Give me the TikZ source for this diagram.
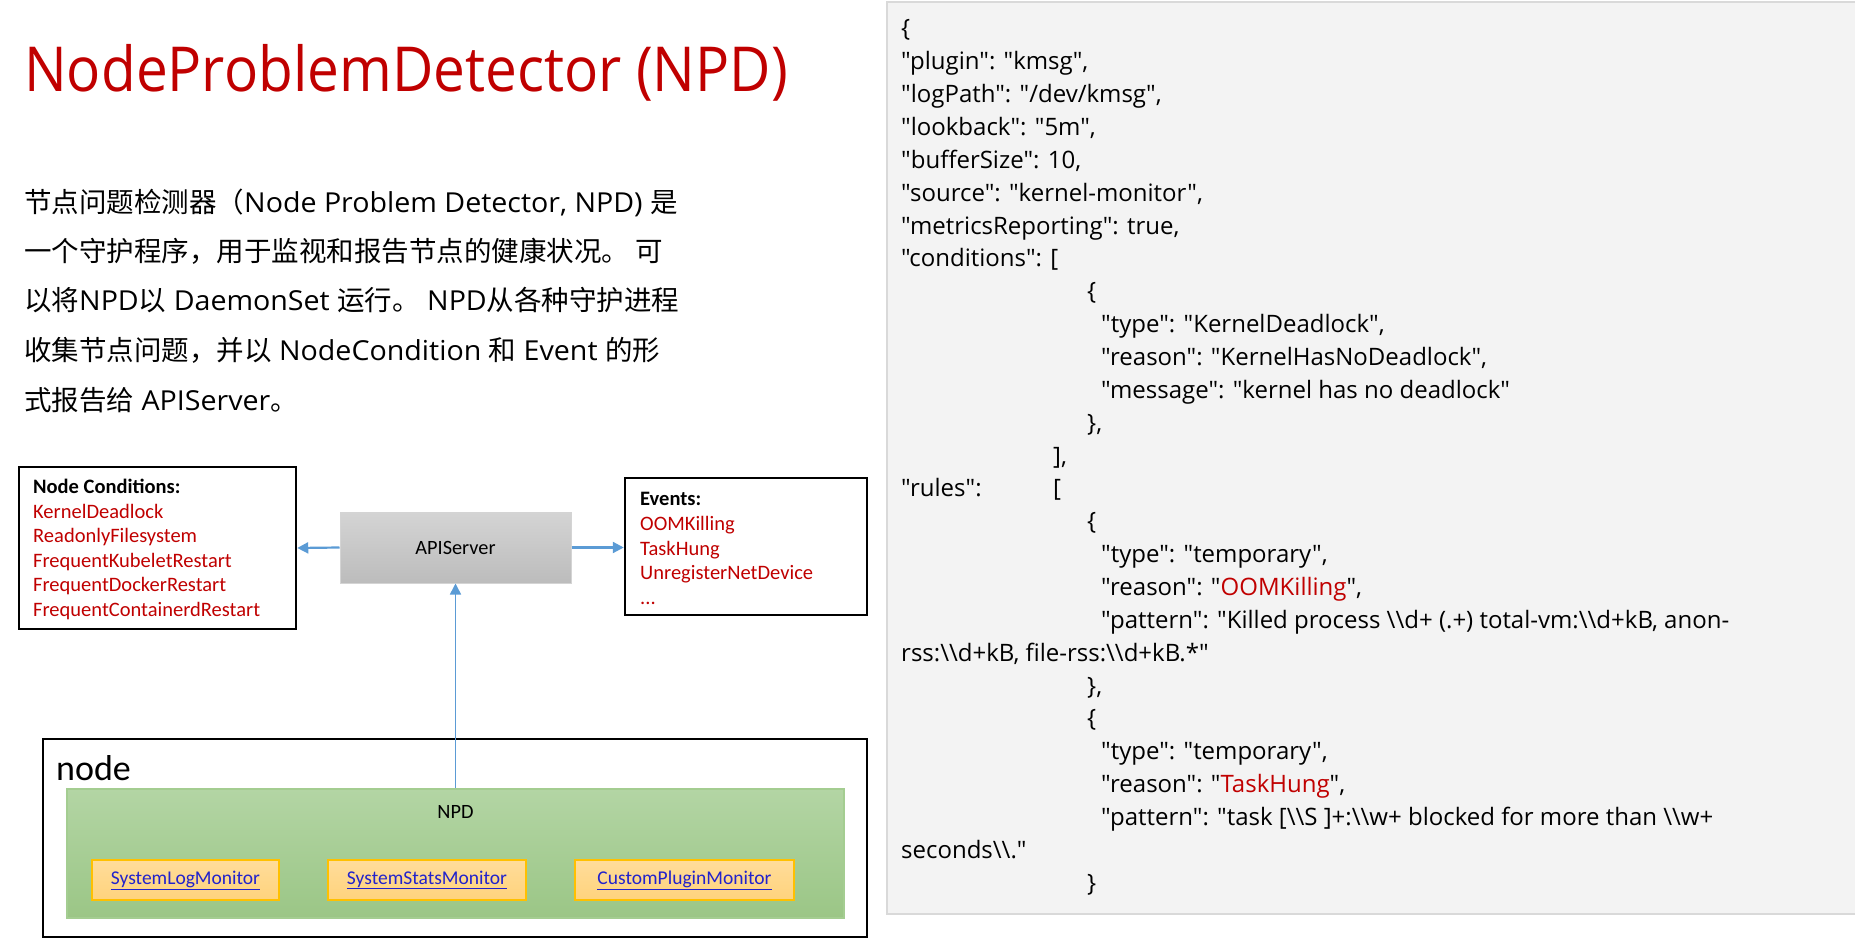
\documentclass[tikz,border=0pt]{standalone}
\usepackage{fontspec}
\setmainfont{Open Sans}
\newfontfamily\cjk{Noto Sans CJK SC}
\newfontfamily\cali{Carlito}
\newfontfamily\titlefont{Open Sans}[FakeStretch=0.915]
\newfontfamily\latinfont{Open Sans}[FakeStretch=1.04]
\newfontfamily\codefont{Open Sans}[Ligatures=TeXOff]
\usetikzlibrary{arrows.meta}

\definecolor{npdred}{HTML}{C00000}
\definecolor{flowblue}{HTML}{5B9BD5}
\definecolor{panelgray}{HTML}{F3F3F3}
\definecolor{panelline}{HTML}{D9D9D9}
\definecolor{apitop}{HTML}{D4D4D4}
\definecolor{apibot}{HTML}{BCBCBC}
\definecolor{npdtop}{HTML}{B3D5A4}
\definecolor{npdbot}{HTML}{9BC686}
\definecolor{npdline}{HTML}{A4CD91}
\definecolor{montop}{HTML}{FFDC9A}
\definecolor{monbot}{HTML}{FFD37C}
\definecolor{monline}{HTML}{FFC000}
\definecolor{linkblue}{HTML}{2222CC}

\newcommand{\zhtext}[1]{{\cjk #1}}
\newcommand{\bs}{\textbackslash}

\begin{document}
\begin{tikzpicture}[x=1pt,y=-1pt,
  titletext/.style={anchor=base west, inner sep=0pt, text=npdred,
    font=\titlefont\fontsize{62}{70}\selectfont},
  paraline/.style={anchor=base west, inner sep=0pt,
    font=\latinfont\fontsize{27.5}{33}\selectfont},
  blackbox/.style={draw=black, line width=2.5pt, fill=white, inner sep=0pt},
  listline/.style={anchor=base west, inner sep=0pt, text=npdred,
    font=\cali\fontsize{20.5}{24}\selectfont},
  listhead/.style={listline, text=black, font=\cali\bfseries\fontsize{20.5}{24}\selectfont},
  monbox/.style={draw=monline, line width=1.5pt, top color=montop, bottom color=monbot,
    minimum height=40pt, inner sep=0pt, text=linkblue,
    font=\cali\fontsize{19.5}{23}\selectfont},
  flow/.style={draw=flowblue, -{Triangle[length=11pt,width=11pt]}},
  codeline/.style={anchor=base west, inner sep=0pt,
    font=\codefont\fontsize{24}{29}\selectfont}]
\useasboundingbox (0,0) rectangle (1855,941);

% title and text
\node[titletext] (title) at (24,92) {NodeProblemDetector (NPD)};
\node[paraline] (p1) at (24,213) {\zhtext{节点问题检测器（}Node Problem Detector, NPD) \zhtext{是}};
\node[paraline] (p2) at (24,262) {\zhtext{一个守护程序，用于监视和报告节点的健康状况。 可}};
\node[paraline] (p3) at (24,310) {\zhtext{以将}NPD\zhtext{以} DaemonSet \zhtext{运行。} NPD\zhtext{从各种守护进程}};
\node[paraline] (p4) at (24,360) {\zhtext{收集节点问题，并以} NodeCondition \zhtext{和} Event \zhtext{的形}};
\node[paraline] (p5) at (24,410) {\zhtext{式报告给} APIServer\zhtext{。}};

% diagram
\node[blackbox, minimum width=277pt, minimum height=162pt] (conds) at (157.5,548) {};
\node[listhead] (c0) at (33,493) {Node Conditions:};
\node[listline] (c1) at (33,518) {KernelDeadlock};
\node[listline] (c2) at (33,542) {ReadonlyFilesystem};
\node[listline] (c3) at (33,567) {FrequentKubeletRestart};
\node[listline] (c4) at (33,591) {FrequentDockerRestart};
\node[listline] (c5) at (33,616) {FrequentContainerdRestart};

\node[draw=apitop, line width=1pt, top color=apitop, bottom color=apibot,
  minimum width=231pt, minimum height=71pt,
  font=\cali\fontsize{20.3}{24}\selectfont] (api) at (455.5,547.5) {APIServer};

\node[blackbox, minimum width=242pt, minimum height=137pt] (events) at (746,546.5) {};
\node[listhead] (e0) at (640,505) {Events:};
\node[listline] (e1) at (640,530) {OOMKilling};
\node[listline] (e2) at (640,555) {TaskHung};
\node[listline] (e3) at (640,579) {UnregisterNetDevice};
\node[listline] (e4) at (640,604) {...};

\node[blackbox, minimum width=824pt, minimum height=198pt] (nodebox) at (455,838) {};
\node[anchor=base west, inner sep=0pt, font=\cali\fontsize{36}{40}\selectfont] (nodelabel) at (56,780) {node};
\node[draw=npdline, line width=1.5pt, top color=npdtop, bottom color=npdbot,
  minimum width=777pt, minimum height=129pt] (npd) at (455.5,853.5) {};
\node[font=\cali\fontsize{20.3}{24}\selectfont] (npdlabel) at (455.5,812) {NPD};
\node[monbox, minimum width=187pt] (syslog) at (185.5,880) {\underline{SystemLogMonitor}};
\node[monbox, minimum width=198pt] (sysstats) at (427,880) {\underline{SystemStatsMonitor}};
\node[monbox, minimum width=219pt] (custom) at (684.5,880) {\underline{CustomPluginMonitor}};

\draw[flow, line width=2.2pt] (api.west) -- (conds.east);
\draw[flow, line width=2.2pt] (api.east) -- (api.east -| events.west);
\draw[flow, line width=1.5pt] (npd.north) -- (api.south);

% config panel
\node[draw=panelline, line width=2pt, fill=panelgray, minimum width=975pt,
  minimum height=911pt] (panel) at (1374.5,458) {};
\node[codeline] (l1) at (901,37) {\{};
\node[codeline] (l2) at (901,69.85) {"plugin": "kmsg",};
\node[codeline] (l3) at (901,102.7) {"logPath": "/dev/kmsg",};
\node[codeline] (l4) at (901,135.55) {"lookback": "5m",};
\node[codeline] (l5) at (901,168.4) {"bufferSize": 10,};
\node[codeline] (l6) at (901,201.25) {"source": "kernel-monitor",};
\node[codeline] (l7) at (901,234.1) {"metricsReporting": true,};
\node[codeline] (l8) at (901,266.95) {"conditions": [};
\node[codeline] (l9) at (1087,299.8) {\{};
\node[codeline] (l10) at (1101,332.65) {"type": "KernelDeadlock",};
\node[codeline] (l11) at (1101,365.5) {"reason": "KernelHasNoDeadlock",};
\node[codeline] (l12) at (1101,398.35) {"message": "kernel has no deadlock"};
\node[codeline] (l13) at (1087,431.2) {\},};
\node[codeline] (l14) at (1053,464.05) {],};
\node[codeline] (l15) at (901,496.9) {"rules":};
\node[codeline] (l15b) at (1053,496.9) {[};
\node[codeline] (l16) at (1087,529.75) {\{};
\node[codeline] (l17) at (1101,562.6) {"type": "temporary",};
\node[codeline] (l18) at (1101,595.45) {"reason": "\textcolor{npdred}{OOMKilling}",};
\node[codeline] (l19) at (1101,628.3) {"pattern": "Killed process \bs\bs d+ (.+) total-vm:\bs\bs d+kB, anon-};
\node[codeline] (l20) at (901,661.15) {rss:\bs\bs d+kB, file-rss:\bs\bs d+kB.*"};
\node[codeline] (l21) at (1087,694) {\},};
\node[codeline] (l22) at (1087,726.85) {\{};
\node[codeline] (l23) at (1101,759.7) {"type": "temporary",};
\node[codeline] (l24) at (1101,792.55) {"reason": "\textcolor{npdred}{TaskHung}",};
\node[codeline] (l25) at (1101,825.4) {"pattern": "task [\bs\bs S ]+:\bs\bs w+ blocked for more than \bs\bs w+};
\node[codeline] (l26) at (901,858.25) {seconds\bs\bs."};
\node[codeline] (l27) at (1087,891.1) {\}};
\end{tikzpicture}
\end{document}
